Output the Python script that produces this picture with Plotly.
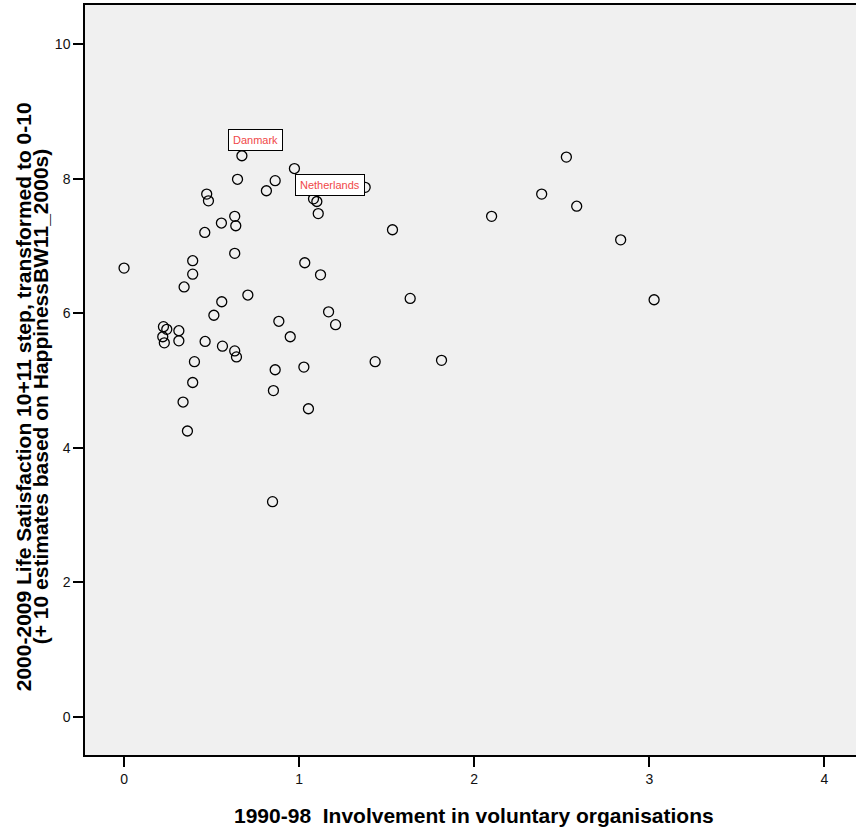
import plotly.graph_objects as go

involvement = [0.673, 0.973, 0.648, 0.863, 0.813, 0.472, 0.482, 1.377, 1.082, 1.101,
               1.109, 0.632, 0.556, 0.638, 0.461, 1.533, 0.0, 0.632, 0.392, 0.392,
               0.343, 1.032, 1.122, 0.707, 0.558, 0.513, 1.168, 0.884, 2.526, 2.385,
               2.585, 2.099, 2.836, 1.634, 3.027, 1.813, 1.208, 0.949, 1.434, 1.027,
               1.053, 0.225, 0.244, 0.313, 0.221, 0.230, 0.313, 0.463, 0.562, 0.632,
               0.642, 0.402, 0.392, 0.337, 0.362, 0.863, 0.853, 0.848]
satisfaction = [8.34, 8.15, 7.99, 7.97, 7.82, 7.77, 7.67, 7.87, 7.70, 7.66,
                7.48, 7.44, 7.34, 7.30, 7.20, 7.24, 6.67, 6.89, 6.78, 6.58,
                6.39, 6.75, 6.57, 6.27, 6.17, 5.97, 6.02, 5.88, 8.32, 7.77,
                7.59, 7.44, 7.09, 6.22, 6.20, 5.30, 5.83, 5.65, 5.28, 5.20,
                4.58, 5.80, 5.76, 5.74, 5.65, 5.56, 5.59, 5.58, 5.51, 5.44,
                5.35, 5.28, 4.97, 4.68, 4.25, 5.16, 4.85, 3.20]

labels = {"Danmark": (0.673, 8.34), "Netherlands": (1.377, 7.87)}
x_ticks = [0, 1, 2, 3, 4]
y_ticks = [0, 2, 4, 6, 8, 10]
x_title = "1990-98  Involvement in voluntary organisations"
y_title_lines = ["2000-2009 Life Satisfaction 10+11 step, transformed to 0-10",
                 "(+ 10 estimates based on HappinessBW11_2000s)"]

FONT = "Liberation Sans, Arial, sans-serif"

fig = go.Figure()
fig.add_trace(go.Scatter(
    x=involvement, y=satisfaction, mode="markers",
    marker=dict(symbol="circle-open", size=10, color="black", line=dict(width=1.3)),
    showlegend=False, hoverinfo="x+y"))

label_style = dict(showarrow=False, font=dict(size=11, color="#f04848", family=FONT),
                   bgcolor="white", bordercolor="black", borderwidth=1, borderpad=4)
dx, dy = labels["Danmark"]
fig.add_annotation(x=dx, y=dy, text="Danmark", xanchor="center", yanchor="bottom",
                   xshift=14, yshift=5, **label_style)
nx, ny = labels["Netherlands"]
fig.add_annotation(x=nx, y=ny, text="Netherlands", xanchor="right", yanchor="middle",
                   xshift=0, yshift=2, **label_style)

# axis titles
fig.add_annotation(xref="paper", yref="paper", x=0.5045, y=0, yshift=-60,
                   xanchor="center", yanchor="middle", showarrow=False,
                   text="<b>%s</b>" % x_title,
                   font=dict(size=21, color="black", family=FONT))
for line, xs in zip(y_title_lines, [-62, -45]):
    fig.add_annotation(xref="paper", yref="paper", x=0, y=0.477, xshift=xs,
                       xanchor="center", yanchor="middle", showarrow=False,
                       textangle=-90, text="<b>%s</b>" % line,
                       font=dict(size=21, color="black", family=FONT))

axis_common = dict(showgrid=False, zeroline=False, showline=True, linecolor="black",
                   linewidth=1.5, ticks="outside", ticklen=10,
                   tickcolor="black", tickwidth=1.5,
                   tickfont=dict(size=14, color="#111111", family=FONT))

fig.update_layout(
    width=856, height=834,
    margin=dict(l=85, r=0, t=5, b=79),
    plot_bgcolor="#f0f0f0", paper_bgcolor="white",
    xaxis=dict(range=[-0.223, 4.18], tickvals=x_ticks, mirror=True, **axis_common),
    yaxis=dict(range=[-0.565, 10.58], tickvals=y_ticks, mirror=False, **axis_common),
)

fig.write_html("out.html", config={"displayModeBar": False},
               post_script="document.body.style.margin='0';")
